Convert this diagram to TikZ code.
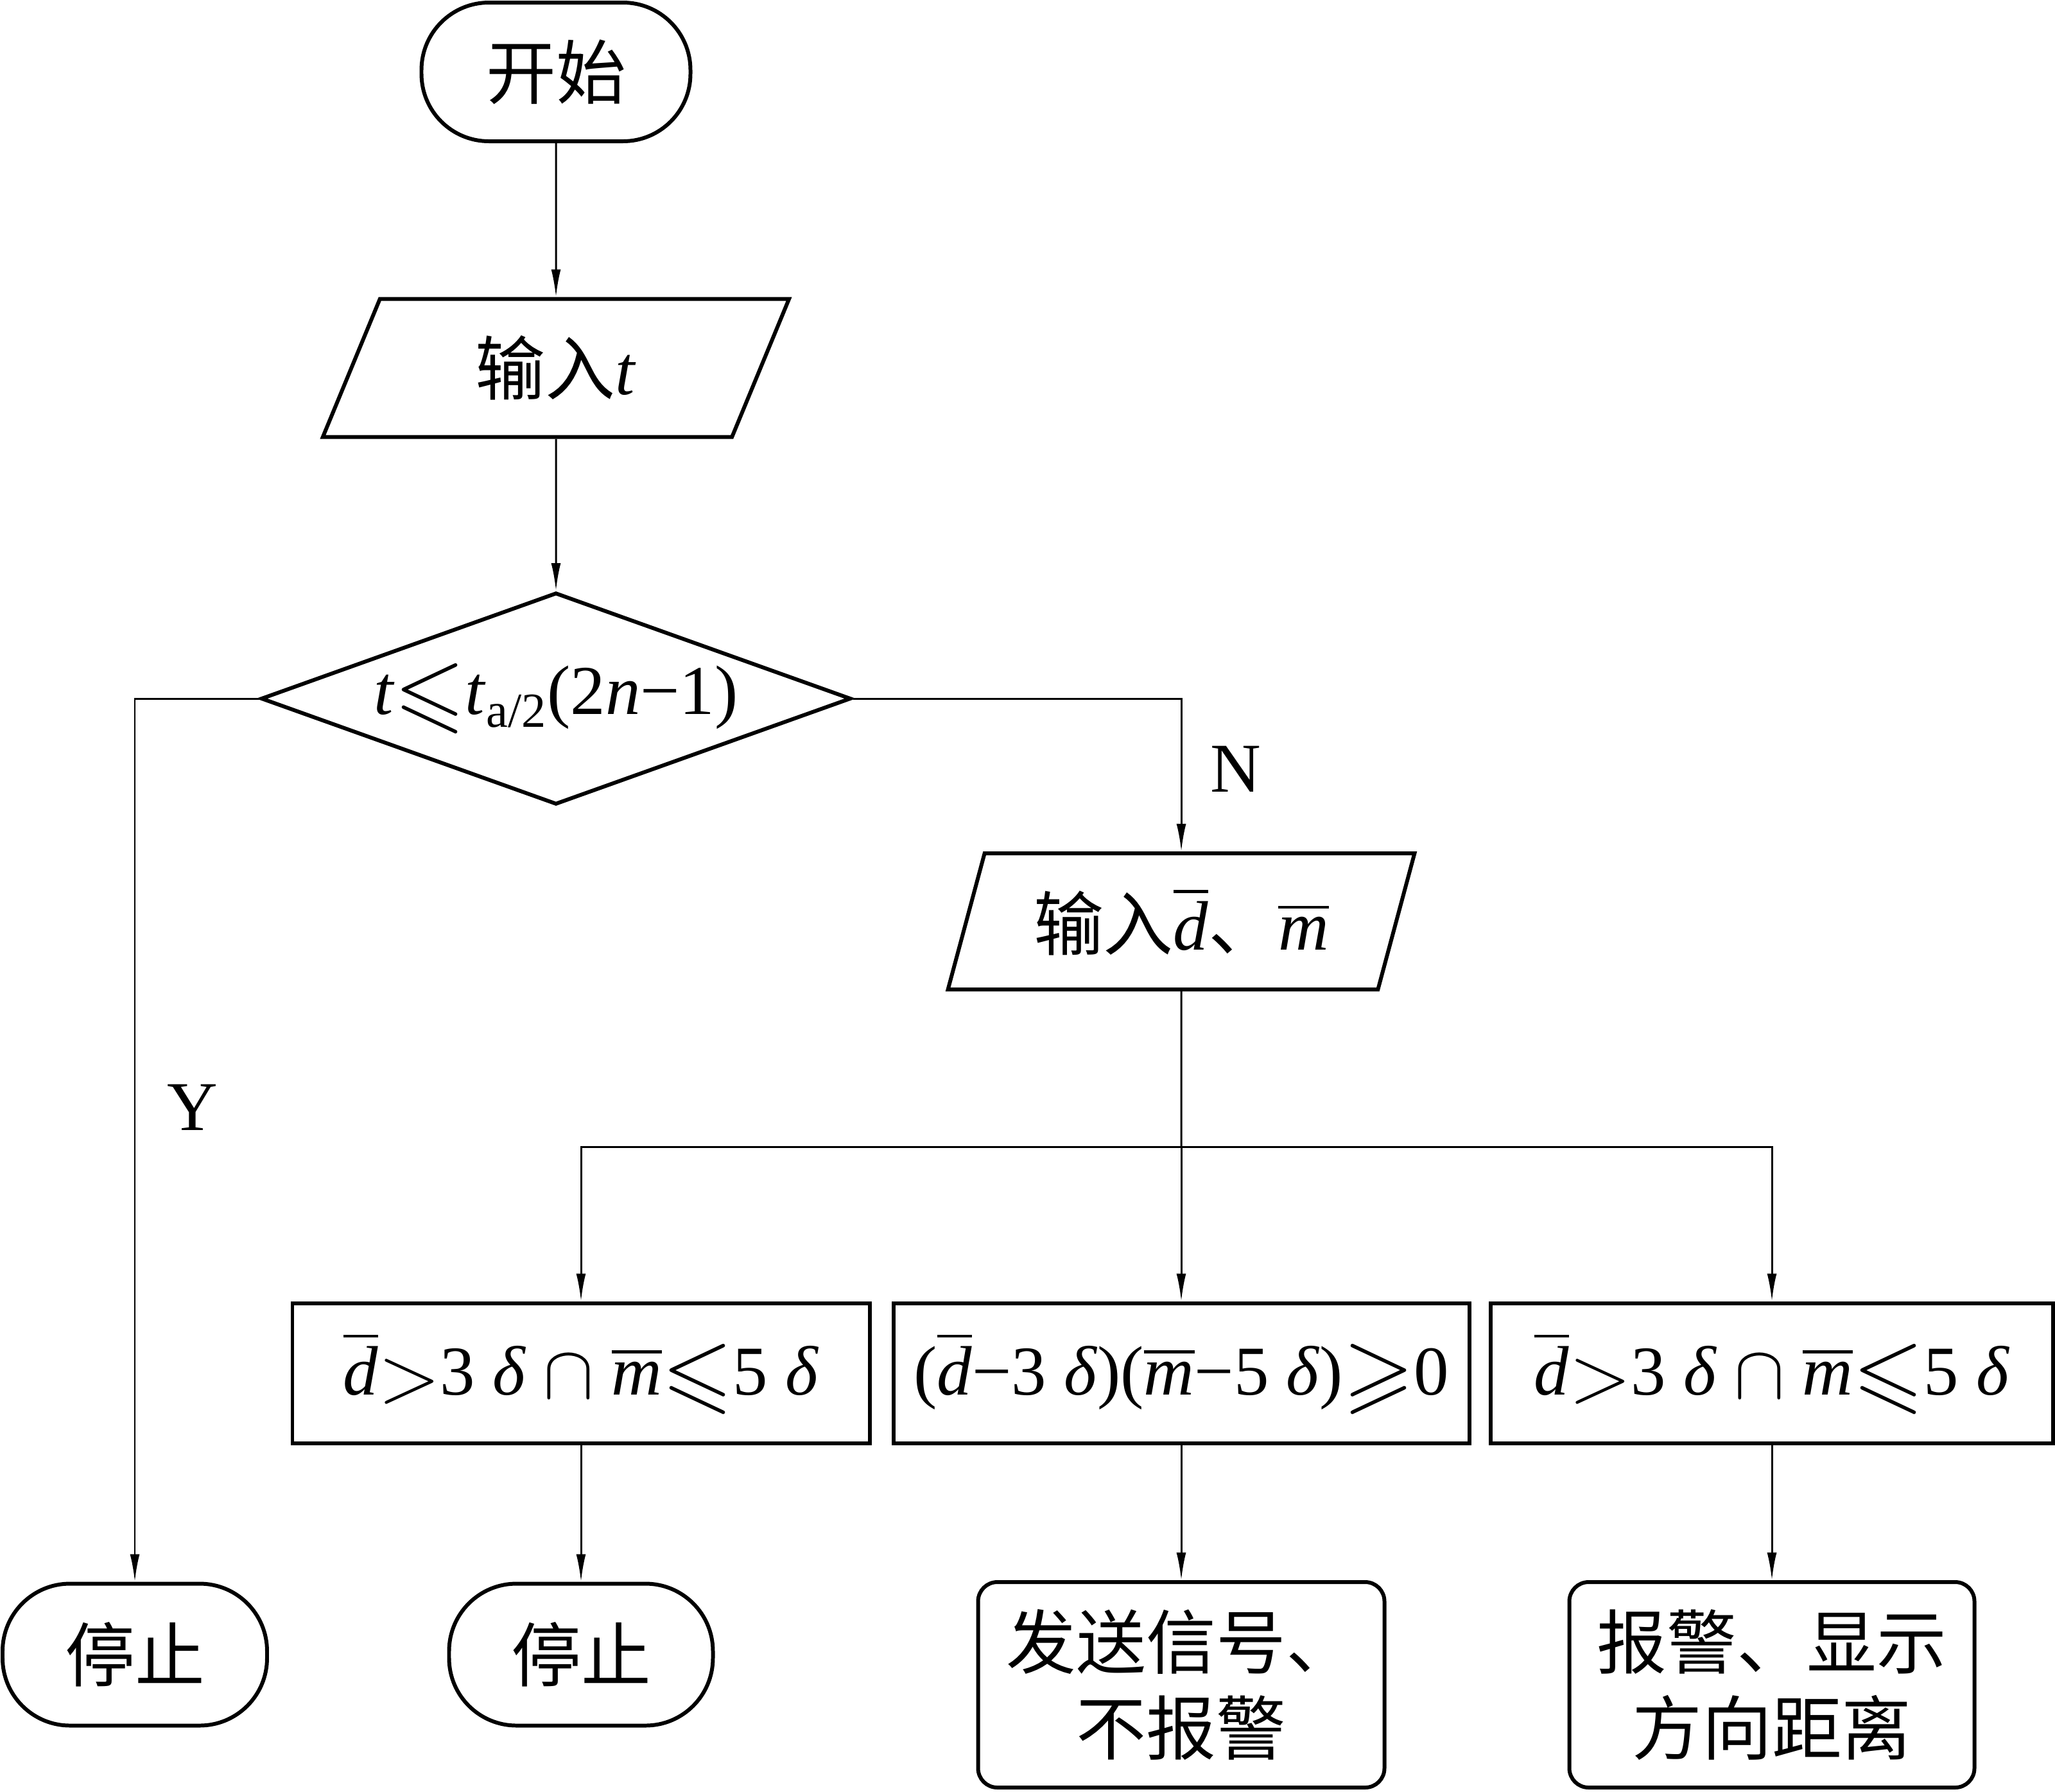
\documentclass[tikz,border=0pt]{standalone}
\usepackage{amssymb}
\usepackage{graphicx}
\usepackage{fontspec}
\setmainfont{Liberation Serif}
\newfontfamily\cjk{Noto Sans CJK SC}
\usetikzlibrary{shapes.geometric,arrows.meta}

\newcommand{\ovl}[1]{$\overline{\mbox{\itshape #1}}$}
\newcommand{\vv}[1]{\textit{#1}}
\newcommand{\lsq}{\raisebox{-0.1em}{\scalebox{1.3}{$\leqslant$}}}
\newcommand{\gsq}{\raisebox{-0.1em}{\scalebox{1.3}{$\geqslant$}}}
\newcommand{\bgt}{\raisebox{-0.1em}{\scalebox{1.45}{$>$}}}
\newcommand{\bcap}{\raisebox{-0.05em}{\scalebox{1.35}{$\cap$}}}

\tikzset{
  every node/.style={font=\fontsize{31}{38}\selectfont},
  flow/.style={draw, line width=1.7pt, inner sep=0pt, align=center},
  terminal/.style={flow, rectangle, rounded corners=1.05cm},
  io/.style={flow, trapezium, trapezium left angle=68,
    trapezium right angle=112, trapezium stretches=true},
  decision/.style={flow, diamond, shape aspect=2.78},
  process/.style={flow, rectangle},
  result/.style={flow, rectangle, rounded corners=0.3cm},
  link/.style={line width=0.85pt},
  arrow/.style={link, -{Latex[length=4.3mm, width=1.5mm]}}
}

\begin{document}
\begin{tikzpicture}
  \useasboundingbox (0, 0) rectangle (32.01, -27.9);

  \node[terminal, minimum width=4.19cm, minimum height=2.16cm]
    (start) at (8.66, -1.12) {{\cjk 开始}};
  \node[io, minimum width=7.27cm, minimum height=2.15cm]
    (inputt) at (8.66, -5.73) {{\cjk 输入}\vv{t}};
  \node[decision, minimum width=9.19cm, minimum height=3.30cm]
    (judge) at (8.66, -10.88) {\vv{t}\lsq\vv{t}\textsubscript{a/2}(2\vv{n}−1)};

  \node[terminal, minimum width=4.12cm, minimum height=2.21cm]
    (stopa) at (2.1, -25.77) {{\cjk 停止}};
  \node (ylabel) at (3.00, -17.25) {Y};

  \node[io, minimum width=7.27cm, minimum height=2.12cm]
    (inputdm) at (18.40, -14.35) {{\cjk 输入}\ovl{d}{\cjk 、}\ovl{m}};
  \node (nlabel) at (19.25, -11.98) {N};
  \coordinate (split) at (18.40, -17.86);

  \node[process, minimum width=8.99cm, minimum height=2.18cm]
    (conda) at (9.05, -21.385) {\ovl{d}\bgt3 \vv{δ} \bcap{} \ovl{m}\lsq5 \vv{δ}};
  \node[process, minimum width=8.97cm, minimum height=2.18cm]
    (condb) at (18.40, -21.385) {(\ovl{d}−3 \vv{δ})(\ovl{m}−5 \vv{δ})\gsq0};
  \node[process, minimum width=8.76cm, minimum height=2.18cm]
    (condc) at (27.6, -21.385) {\ovl{d}\bgt3 \vv{δ} \bcap{} \ovl{m}\lsq5 \vv{δ}};

  \node[terminal, minimum width=4.11cm, minimum height=2.21cm]
    (stopb) at (9.05, -25.77) {{\cjk 停止}};
  \node[result, minimum width=6.33cm, minimum height=3.2cm]
    (send) at (18.40, -26.24) {{\cjk 发送信号、}\\{\cjk 不报警}};
  \node[result, minimum width=6.31cm, minimum height=3.2cm]
    (alarm) at (27.6, -26.24) {{\cjk 报警、显示}\\{\cjk 方向距离}};

  \draw[arrow] (start) -- (inputt);
  \draw[arrow] (inputt) -- (judge);
  \draw[arrow] (judge.west) -| (stopa);
  \draw[arrow] (judge.east) -| (inputdm);
  \draw[link] (inputdm) -- (split);
  \draw[arrow] (split) -| (conda);
  \draw[arrow] (split) -- (condb);
  \draw[arrow] (split) -| (condc);
  \draw[arrow] (conda) -- (stopb);
  \draw[arrow] (condb) -- (send);
  \draw[arrow] (condc) -- (alarm);
\end{tikzpicture}
\end{document}
